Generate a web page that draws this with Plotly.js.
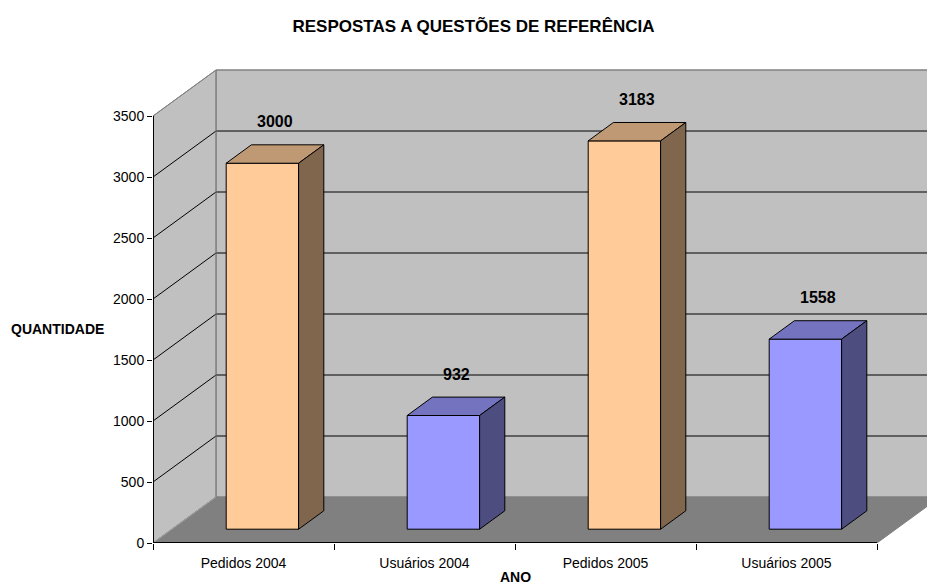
<!DOCTYPE html>
<html>
<head>
<meta charset="utf-8">
<script src="https://cdn.plot.ly/plotly-3.0.1.min.js"></script>
<style>html,body{margin:0;padding:0;background:#fff;}#chart{width:927px;height:588px;}</style>
</head>
<body>
<div id="chart"></div>
<script>
// ---- data ----
const categories = ['Pedidos 2004', 'Usuários 2004', 'Pedidos 2005', 'Usuários 2005'];
const values = [3000, 932, 3183, 1558];
const yTicks = [0, 500, 1000, 1500, 2000, 2500, 3000, 3500];
const chartTitle = 'RESPOSTAS A QUESTÕES DE REFERÊNCIA';
const xTitle = 'ANO';
const yTitle = 'QUANTIDADE';

// ---- projection / style constants ----
const FONT = 'Liberation Sans, Arial, sans-serif';
const W = 927, H = 588;
const ML = 153, MR = 0, MB = 45;
const PX_CAT = 181;                 // px per category
const PX_UNIT = 427 / 3500;         // px per value unit
const YMAX = 3910;
const plotH = YMAX * PX_UNIT;
const MT = H - MB - plotH;
const XMAX = (W - ML - MR) / PX_CAT;
const DX = 63 / PX_CAT;             // depth offset in category units
const DY = 46 / PX_UNIT;            // depth offset in value units
const TOPV = yTicks[yTicks.length - 1];
const nCat = categories.length;
const F0 = 0.3, F1 = 0.7;           // bar depth band
const B0 = 0.3, B1 = 0.7;           // bar width band

const palette = {
  Pedidos:  {front: '#FFCC99', top: '#BF9973', side: '#7F664D'},
  Usuarios: {front: '#9999FF', top: '#7373BF', side: '#4D4D80'}
};
const colorOf = c => c.indexOf('Pedidos') === 0 ? palette.Pedidos : palette.Usuarios;

// ---- walls, floor, gridlines (shapes) ----
const shapes = [];
function poly(pts, fill, line, lw) {
  const path = pts.map((p, i) => (i ? 'L' : 'M') + p[0] + ',' + p[1]).join(' ') + ' Z';
  shapes.push({type: 'path', xref: 'x', yref: 'y', path: path, fillcolor: fill,
               line: {color: line, width: lw}, layer: 'below'});
}
function seg(x0, y0, x1, y1, color, w) {
  shapes.push({type: 'line', xref: 'x', yref: 'y', x0: x0, y0: y0, x1: x1, y1: y1,
               line: {color: color, width: w}, layer: 'below'});
}
// back wall
poly([[DX, DY], [nCat + DX + 1, DY], [nCat + DX + 1, TOPV + DY], [DX, TOPV + DY]], '#C0C0C0', '#808080', 1);
// left wall
poly([[0, 0], [DX, DY], [DX, TOPV + DY], [0, TOPV]], '#C0C0C0', '#808080', 1);
// floor
poly([[0, 0], [nCat, 0], [nCat + DX, DY], [DX, DY]], '#808080', '#808080', 1);
// gridlines
yTicks.forEach(v => {
  if (v === 0 || v === TOPV) return;
  seg(DX, v + DY, nCat + DX + 1, v + DY, '#000000', 1);
  seg(0, v, DX, v + DY, '#000000', 1);
});
// wall edges
seg(DX, DY, DX, TOPV + DY, '#808080', 1);
seg(0, TOPV, DX, TOPV + DY, '#808080', 1);
seg(DX, TOPV + DY, nCat + DX + 1, TOPV + DY, '#808080', 1);
seg(0, 0, DX, DY, '#A0A0A0', 1);
// axis lines (front edges)
seg(0, 0, nCat, 0, '#000000', 2);
seg(0, 0, 0, TOPV, '#000000', 2);

// ---- bars ----
const base = F0 * DY;
const traces = [];
traces.push({
  type: 'bar',
  x: categories.map((c, i) => i + 0.5 + F0 * DX),
  y: values,
  base: values.map(() => base),
  width: B1 - B0,
  marker: {color: categories.map(c => colorOf(c).front), line: {color: '#000', width: 1}},
  hoverinfo: 'skip', showlegend: false
});
const depthX = (F1 - F0) * DX, depthY = (F1 - F0) * DY;
categories.forEach((c, i) => {
  const v = values[i];
  const xl = i + B0 + F0 * DX, xr = i + B1 + F0 * DX;
  const yb = base, yt = base + v;
  const col = colorOf(c);
  // top face
  traces.push({type: 'scatter', mode: 'lines', fill: 'toself', fillcolor: col.top,
    x: [xl, xr, xr + depthX, xl + depthX, xl],
    y: [yt, yt, yt + depthY, yt + depthY, yt],
    line: {color: '#000', width: 1}, hoverinfo: 'skip', showlegend: false});
  // side face
  traces.push({type: 'scatter', mode: 'lines', fill: 'toself', fillcolor: col.side,
    x: [xr, xr + depthX, xr + depthX, xr, xr],
    y: [yb, yb + depthY, yt + depthY, yt, yb],
    line: {color: '#000', width: 1}, hoverinfo: 'skip', showlegend: false});
});

// ---- annotations ----
const annotations = categories.map((c, i) => ({
  xref: 'x', yref: 'y',
  x: i + B0 + F0 * DX + ((B1 - B0) + depthX) / 2,
  y: values[i] + base + depthY,
  text: '<b>' + values[i] + '</b>',
  showarrow: false, yanchor: 'middle', xanchor: 'center', yshift: 23,
  font: {family: FONT, size: 16, color: '#000'}
}));
annotations.push({
  xref: 'paper', yref: 'paper', x: (57 - ML) / (W - ML - MR), y: (H - MB - 329) / plotH,
  text: '<b>' + yTitle + '</b>', showarrow: false, xanchor: 'center', yanchor: 'middle',
  font: {family: FONT, size: 14, color: '#000'}
});
annotations.push({
  xref: 'paper', yref: 'paper', x: (515 - ML) / (W - ML - MR), y: (H - MB - 577) / plotH,
  text: '<b>' + xTitle + '</b>', showarrow: false, xanchor: 'center', yanchor: 'middle',
  font: {family: FONT, size: 14, color: '#000'}
});

const layout = {
  width: W, height: H,
  margin: {l: ML, r: MR, t: MT, b: MB, pad: 0},
  paper_bgcolor: '#FFFFFF', plot_bgcolor: '#FFFFFF',
  showlegend: false, hovermode: false, bargap: 0,
  title: {text: '<b>' + chartTitle + '</b>', x: 473.5 / W, xref: 'container', xanchor: 'center',
          y: 1 - 26 / H, yref: 'container', yanchor: 'middle',
          font: {family: FONT, size: 17, color: '#000'}},
  xaxis: {range: [0, XMAX], showgrid: false, zeroline: false, showline: false,
          tickmode: 'array', tickvals: categories.map((c, i) => i + 0.5), ticktext: categories,
          ticks: '', ticklabelstandoff: 10,
          minor: {tickmode: 'array', tickvals: categories.map((c, i) => i).concat([nCat]),
                  ticks: 'outside', ticklen: 6, tickcolor: '#000', tickwidth: 1, showgrid: false},
          tickfont: {family: FONT, size: 14, color: '#000'}, fixedrange: true},
  yaxis: {range: [0, YMAX], showgrid: false, zeroline: false, showline: false,
          tickmode: 'array', tickvals: yTicks, ticks: 'outside', ticklen: 5, tickcolor: '#000', tickwidth: 1,
          tickfont: {family: FONT, size: 14, color: '#000'}, fixedrange: true},
  shapes: shapes,
  annotations: annotations
};

Plotly.newPlot('chart', traces, layout, {displayModeBar: false, staticPlot: true});
</script>
</body>
</html>
